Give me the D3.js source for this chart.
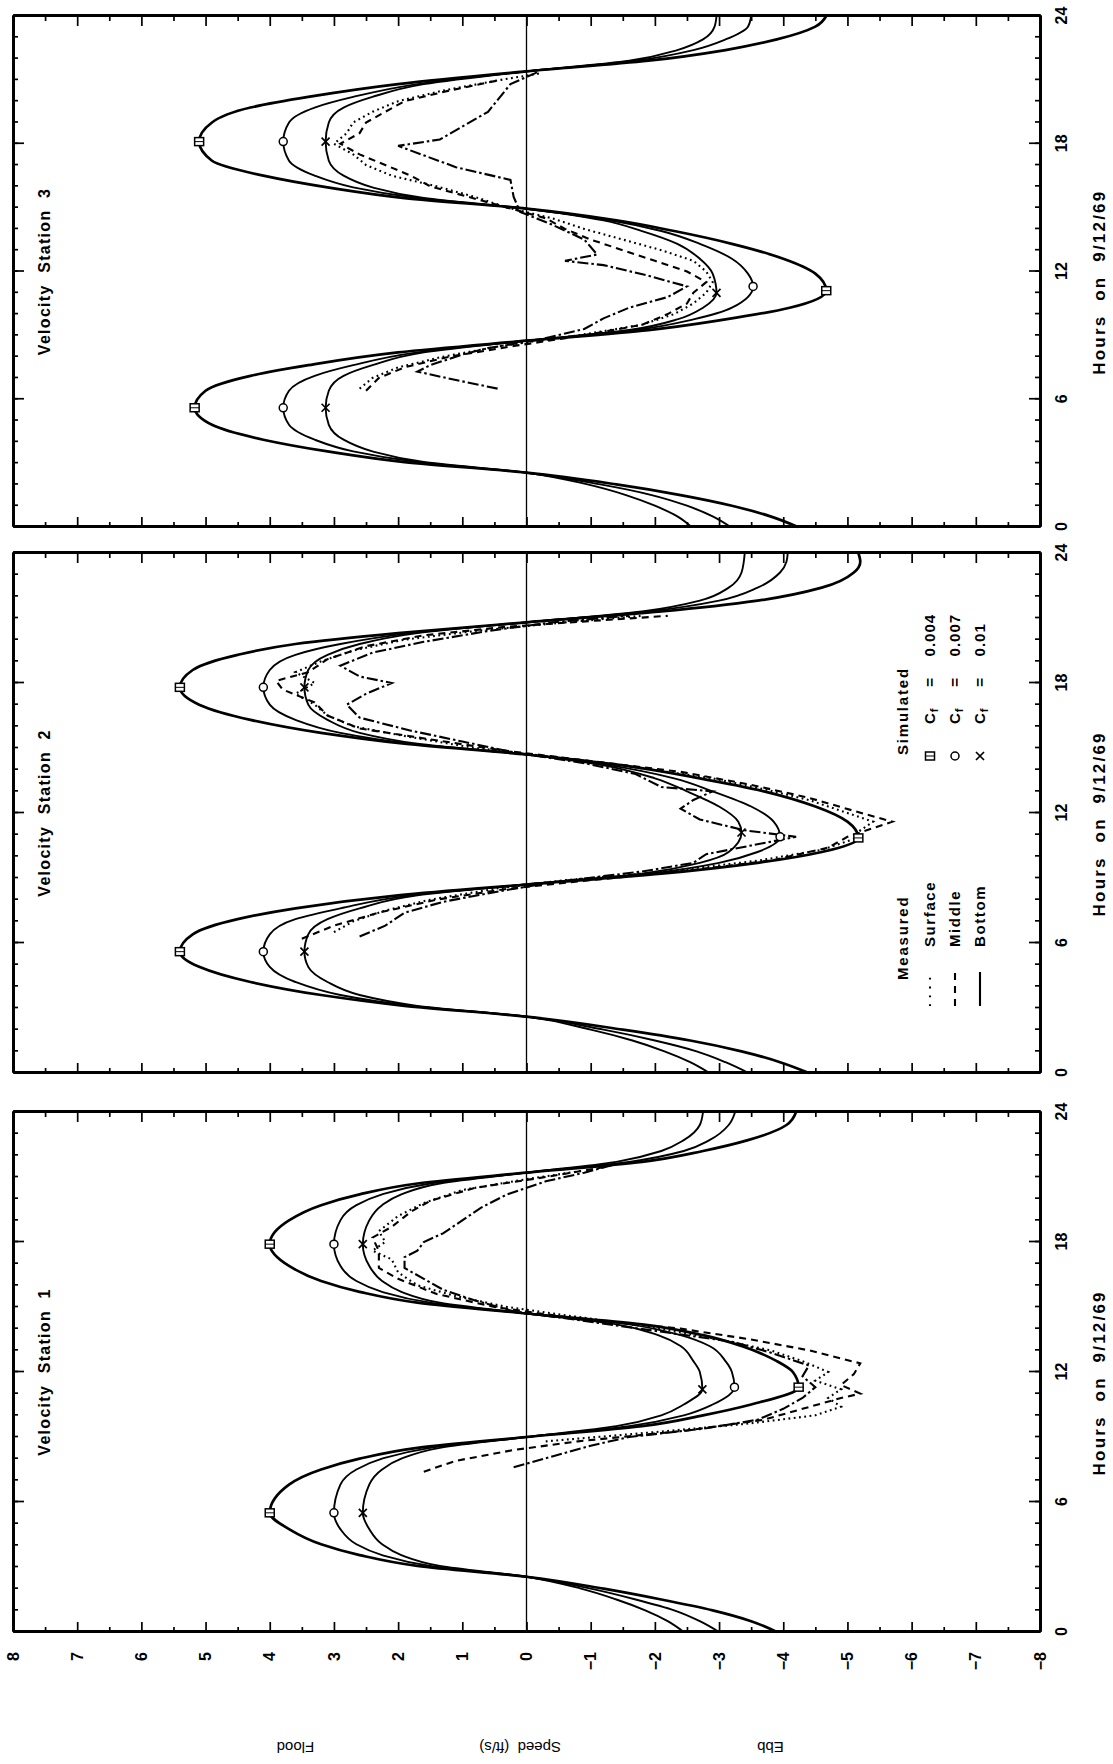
<!DOCTYPE html>
<html>
<head>
<meta charset="utf-8">
<script src="https://d3js.org/d3.v7.min.js"></script>
<style>
    body { margin: 0; background: #fff; }
    text { font-family: "Liberation Sans", Arial, sans-serif; fill: #000; }
    .axis path, .axis line { stroke: #000; fill: none; }
</style>
</head>
<body>
<div id="chart"></div>
<script>
// tick labels
var hourTicks = [0, 6, 12, 18, 24];
var speedTicks = [8, 7, 6, 5, 4, 3, 2, 1, 0, -1, -2, -3, -4, -5, -6, -7, -8];
var stationNames = ["Velocity  Station  1", "Velocity  Station  2", "Velocity  Station  3"];
var measuredNames = ["Surface", "Middle", "Bottom"];
var simulatedNames = ["0.004", "0.007", "0.01"];

// simulated, station 1 (hour, ft/s)
var sim1Cf004 = [[0,-3.9],[0.5,-3.5],[1.0,-2.9],[1.5,-2.1],[2.0,-1.2],[2.55,0],[3.05,1.7],[3.55,2.6],[4.05,3.2],[4.75,3.7],[5.5,4.0],[6.8,3.7],[7.5,3.2],[8.0,2.6],[8.5,1.7],[9.0,0],[9.5,-1.8],[10.0,-2.75],[10.5,-3.5],[11.3,-4.24],[12.0,-4.15],[12.5,-3.9],[13.2,-3.35],[13.7,-2.75],[14.2,-1.8],[14.7,0],[15.2,1.7],[15.7,2.6],[16.2,3.2],[16.9,3.7],[17.9,4.0],[19.0,3.7],[19.7,3.2],[20.2,2.6],[20.7,1.7],[21.2,0],[21.7,-1.8],[22.2,-2.75],[22.7,-3.45],[23.4,-4.05],[24,-4.2]];
var sim1Cf007 = [[0,-3.0],[0.5,-2.7],[1.0,-2.3],[1.5,-1.7],[2.0,-1.0],[2.55,0],[3.05,1.5],[3.55,2.25],[4.05,2.65],[4.75,2.9],[5.5,3.0],[6.8,2.9],[7.5,2.65],[8.0,2.25],[8.5,1.5],[9.0,0],[9.5,-1.6],[10.0,-2.45],[10.5,-2.9],[11.3,-3.24],[12.0,-3.2],[12.5,-3.1],[13.2,-2.85],[13.7,-2.4],[14.2,-1.6],[14.7,0],[15.2,1.5],[15.7,2.25],[16.2,2.65],[16.9,2.9],[17.9,3.0],[19.0,2.9],[19.7,2.65],[20.2,2.25],[20.7,1.5],[21.2,0],[21.7,-1.6],[22.2,-2.45],[22.7,-2.85],[23.4,-3.15],[24,-3.25]];
var sim1Cf01 = [[0,-2.45],[0.5,-2.2],[1.0,-1.85],[1.5,-1.4],[2.0,-0.85],[2.55,0],[3.05,1.35],[3.55,1.95],[4.05,2.25],[4.75,2.45],[5.5,2.55],[6.8,2.45],[7.5,2.25],[8.0,1.95],[8.5,1.35],[9.0,0],[9.5,-1.4],[10.0,-2.1],[10.5,-2.45],[11.2,-2.74],[12.0,-2.7],[12.5,-2.6],[13.2,-2.4],[13.7,-2.05],[14.2,-1.4],[14.7,0],[15.2,1.35],[15.7,1.95],[16.2,2.25],[16.9,2.45],[17.9,2.55],[19.0,2.45],[19.7,2.25],[20.2,1.95],[20.7,1.35],[21.2,0],[21.7,-1.4],[22.2,-2.1],[22.7,-2.45],[23.4,-2.7],[24,-2.75]];

// simulated, station 2
var sim2Cf004 = [[0,-4.4],[0.5,-3.95],[1.0,-3.35],[1.5,-2.55],[2.0,-1.5],[2.6,0],[3.1,1.9],[3.6,3.2],[4.2,4.3],[4.9,5.1],[5.6,5.4],[6.4,5.2],[7.1,4.5],[7.6,3.6],[8.2,2.0],[8.7,0],[9.2,-2.1],[9.7,-3.6],[10.2,-4.6],[10.85,-5.17],[11.6,-5.0],[12.3,-4.5],[13.0,-3.7],[13.6,-2.7],[14.2,-1.5],[14.7,0],[15.2,1.9],[15.7,3.2],[16.3,4.3],[17.0,5.1],[17.8,5.4],[18.6,5.2],[19.3,4.5],[19.8,3.6],[20.3,2.0],[20.8,0],[21.3,-2.1],[21.8,-3.6],[22.4,-4.6],[23.1,-5.1],[23.6,-5.2],[24,-5.17]];
var sim2Cf007 = [[0,-3.46],[0.5,-3.1],[1.0,-2.65],[1.5,-2.0],[2.0,-1.2],[2.6,0],[3.1,1.8],[3.6,2.9],[4.2,3.6],[4.9,4.0],[5.6,4.1],[6.4,4.0],[7.1,3.6],[7.6,2.9],[8.2,1.8],[8.7,0],[9.2,-1.9],[9.7,-3.0],[10.2,-3.6],[10.9,-3.95],[11.6,-3.85],[12.3,-3.5],[13.0,-2.9],[13.6,-2.3],[14.2,-1.3],[14.7,0],[15.2,1.8],[15.7,2.9],[16.3,3.6],[17.0,4.0],[17.8,4.1],[18.6,4.0],[19.3,3.6],[19.8,2.9],[20.3,1.8],[20.8,0],[21.3,-1.9],[21.8,-3.0],[22.4,-3.6],[23.1,-3.95],[23.6,-4.05],[24,-4.07]];
var sim2Cf01 = [[0,-2.85],[0.5,-2.55],[1.0,-2.15],[1.5,-1.65],[2.0,-1.0],[2.6,0],[3.1,1.7],[3.6,2.6],[4.2,3.1],[4.9,3.4],[5.6,3.46],[6.4,3.4],[7.1,3.1],[7.6,2.6],[8.2,1.7],[8.7,0],[9.2,-1.8],[9.7,-2.7],[10.2,-3.15],[11.1,-3.35],[11.6,-3.3],[12.3,-3.0],[13.0,-2.5],[13.6,-2.0],[14.2,-1.2],[14.7,0],[15.2,1.7],[15.7,2.6],[16.3,3.1],[17.0,3.4],[17.8,3.46],[18.6,3.4],[19.3,3.1],[19.8,2.6],[20.3,1.7],[20.8,0],[21.3,-1.8],[21.8,-2.7],[22.4,-3.15],[23.1,-3.35],[24,-3.4]];

// simulated, station 3
var sim3Cf004 = [[0,-4.23],[0.5,-3.8],[1.0,-3.2],[1.5,-2.4],[2.0,-1.4],[2.55,0],[3.05,1.9],[3.55,3.1],[4.1,4.1],[4.8,4.9],[5.6,5.17],[6.4,5.0],[7.1,4.3],[7.6,3.4],[8.2,2.0],[8.75,0],[9.25,-1.9],[9.75,-3.1],[10.3,-4.1],[11.1,-4.67],[11.9,-4.5],[12.6,-4.0],[13.3,-3.2],[13.9,-2.3],[14.4,-1.4],[14.95,0],[15.45,1.9],[15.95,3.1],[16.5,4.1],[17.2,4.9],[18.1,5.1],[19.0,4.9],[19.7,4.3],[20.2,3.4],[20.8,2.0],[21.4,0],[21.9,-1.9],[22.4,-3.1],[22.9,-3.9],[23.5,-4.5],[24,-4.67]];
var sim3Cf007 = [[0,-3.18],[0.5,-2.9],[1.0,-2.5],[1.5,-1.95],[2.0,-1.15],[2.55,0],[3.05,1.7],[3.55,2.7],[4.1,3.3],[4.8,3.7],[5.6,3.79],[6.4,3.7],[7.1,3.3],[7.6,2.7],[8.2,1.7],[8.75,0],[9.25,-1.7],[9.75,-2.6],[10.3,-3.2],[11.3,-3.53],[11.9,-3.45],[12.6,-3.2],[13.3,-2.7],[13.9,-2.1],[14.4,-1.3],[14.95,0],[15.45,1.7],[15.95,2.7],[16.5,3.3],[17.2,3.7],[18.1,3.79],[19.0,3.7],[19.7,3.3],[20.2,2.7],[20.8,1.7],[21.4,0],[21.9,-1.7],[22.4,-2.6],[22.9,-3.1],[23.5,-3.45],[24,-3.5]];
var sim3Cf01 = [[0,-2.57],[0.5,-2.35],[1.0,-2.0],[1.5,-1.55],[2.0,-0.95],[2.55,0],[3.05,1.6],[3.55,2.4],[4.1,2.85],[4.8,3.08],[5.6,3.13],[6.4,3.08],[7.1,2.85],[7.6,2.4],[8.2,1.6],[8.75,0],[9.25,-1.6],[9.75,-2.35],[10.3,-2.75],[11.0,-2.96],[11.9,-2.9],[12.6,-2.7],[13.3,-2.35],[13.9,-1.8],[14.4,-1.2],[14.95,0],[15.45,1.6],[15.95,2.4],[16.5,2.85],[17.2,3.08],[18.1,3.13],[19.0,3.08],[19.7,2.85],[20.2,2.4],[20.8,1.6],[21.4,0],[21.9,-1.6],[22.4,-2.35],[22.9,-2.75],[23.5,-2.93],[24,-2.96]];

// marked peaks of simulated curves: [hour, speed]
var marks1Cf004 = [[5.5,4.0],[11.3,-4.24],[17.9,4.0]];
var marks1Cf007 = [[5.5,3.0],[11.3,-3.24],[17.9,3.0]];
var marks1Cf01 = [[5.5,2.55],[11.2,-2.74],[17.9,2.55]];
var marks2Cf004 = [[5.6,5.4],[10.85,-5.17],[17.8,5.4]];
var marks2Cf007 = [[5.6,4.1],[10.9,-3.95],[17.8,4.1]];
var marks2Cf01 = [[5.6,3.46],[11.1,-3.35],[17.8,3.46]];
var marks3Cf004 = [[5.6,5.17],[11.1,-4.67],[18.1,5.1]];
var marks3Cf007 = [[5.6,3.79],[11.3,-3.53],[18.1,3.79]];
var marks3Cf01 = [[5.6,3.13],[11.0,-2.96],[18.1,3.13]];

// measured, station 1
var meas1Surface = [[8.8,-0.3],[9.2,-1.9],[9.6,-3.4],[10.0,-4.5],[10.4,-4.9],[10.8,-4.7],[11.2,-4.9],[11.6,-4.5],[12.0,-4.7],[12.5,-4.3],[13.0,-3.8],[13.5,-3.0],[14.0,-2.1],[14.5,-0.9],[15.0,0.3],[15.5,1.1],[16.0,1.7],[16.6,2.0],[17.2,2.1],[17.6,2.4],[18.0,2.2],[18.5,2.3],[19.2,2.0],[19.8,1.6],[20.4,1.0],[20.9,0.0],[21.3,-0.9]];
var meas1Middle = [[7.4,1.6],[7.9,1.1],[8.4,0.2],[8.8,-0.8],[9.3,-2.5],[9.8,-3.7],[10.3,-4.3],[10.8,-4.9],[11.0,-5.2],[11.4,-4.9],[11.9,-5.1],[12.4,-5.2],[13.0,-4.4],[13.5,-3.5],[14.0,-2.4],[14.5,-0.7],[15.0,0.5],[15.6,1.4],[16.3,2.0],[16.8,2.3],[17.6,2.3],[18.2,2.4],[18.7,2.1],[19.4,1.8],[19.9,1.5],[20.5,0.8],[21.0,-0.3],[21.5,-1.3]];
var meas1Bottom = [[7.6,0.2],[8.1,-0.4],[8.6,-1.0],[9.0,-1.6],[9.4,-2.8],[9.8,-3.6],[10.3,-4.0],[10.8,-4.3],[11.3,-4.5],[11.8,-4.3],[12.3,-4.4],[12.9,-3.8],[13.4,-3.2],[13.9,-2.0],[14.4,-0.8],[14.8,0.2],[15.3,0.8],[15.8,1.3],[16.3,1.6],[16.8,1.9],[17.3,1.9],[17.6,1.7],[18.0,1.6],[18.4,1.3],[19.0,1.0],[19.6,0.7],[20.2,0.3],[20.8,-0.3],[21.2,-0.9],[21.6,-1.4]];

// measured, station 2
var meas2Surface = [[6.5,3.0],[7.0,2.7],[7.5,2.2],[8.0,1.5],[8.5,0.5],[8.9,-0.6],[9.3,-2.2],[9.8,-3.6],[10.3,-4.6],[10.8,-5.1],[11.2,-5.2],[11.6,-5.4],[12.1,-4.9],[12.6,-4.4],[13.1,-3.7],[13.6,-2.9],[14.1,-1.7],[14.6,-0.4],[15.0,0.8],[15.5,1.8],[16.0,2.7],[16.5,3.1],[17.0,3.3],[17.5,3.6],[18.0,3.3],[18.5,3.6],[19.0,3.2],[19.5,2.7],[20.0,1.9],[20.4,0.8],[20.8,-0.6],[21.1,-1.8]];
var meas2Middle = [[6.2,3.5],[6.8,3.0],[7.4,2.3],[8.0,1.4],[8.5,0.3],[8.9,-1.0],[9.3,-2.4],[9.8,-3.8],[10.4,-4.7],[10.9,-5.0],[11.3,-5.4],[11.6,-5.7],[12.1,-5.1],[12.7,-4.4],[13.3,-3.5],[13.9,-2.4],[14.4,-1.0],[14.9,0.4],[15.4,1.5],[15.9,2.6],[16.5,3.1],[17.1,3.3],[17.7,3.8],[18.1,3.9],[18.5,3.4],[19.1,3.1],[19.7,2.5],[20.2,1.6],[20.6,0.3],[20.9,-1.2],[21.1,-2.2]];
var meas2Bottom = [[6.3,2.6],[6.8,2.2],[7.4,1.9],[7.9,1.3],[8.4,0.4],[8.8,-0.4],[9.3,-1.8],[9.7,-2.6],[10.1,-2.8],[10.5,-3.5],[10.9,-4.2],[11.2,-3.4],[11.7,-2.7],[12.2,-2.4],[12.6,-2.6],[13.0,-2.9],[13.2,-2.1],[13.8,-1.7],[14.3,-0.9],[14.8,0.2],[15.3,1.0],[15.8,1.8],[16.4,2.6],[17.0,2.8],[17.5,2.5],[18.0,2.1],[18.3,2.6],[18.8,2.9],[19.4,2.4],[19.9,1.6],[20.4,0.6],[20.8,-0.4],[21.1,-1.6]];

// measured, station 3
var meas3Surface = [[6.5,2.6],[7.0,2.4],[7.5,2.0],[8.0,1.3],[8.5,0.4],[9.0,-0.8],[9.5,-1.8],[10.0,-2.3],[10.5,-2.6],[11.0,-2.8],[11.5,-2.9],[12.0,-2.8],[12.5,-2.6],[13.0,-2.1],[13.5,-1.5],[14.0,-0.9],[14.5,-0.4],[15.0,0.3],[15.5,0.8],[16.0,1.4],[16.5,2.1],[17.0,2.5],[17.5,2.7],[18.0,3.0],[18.5,2.8],[19.0,2.7],[19.5,2.4],[20.0,2.0],[20.5,1.3],[21.0,0.4],[21.3,-0.2]];
var meas3Middle = [[6.4,2.5],[7.0,2.3],[7.5,1.9],[8.0,1.2],[8.5,0.2],[9.0,-0.9],[9.5,-1.8],[10.0,-2.2],[10.5,-2.5],[11.0,-2.6],[11.5,-2.8],[12.0,-2.5],[12.5,-2.0],[13.0,-1.5],[13.5,-1.0],[14.0,-0.6],[14.5,-0.3],[15.0,0.3],[15.5,0.9],[16.0,1.5],[16.5,1.8],[17.0,2.2],[17.5,2.6],[18.0,2.9],[18.5,2.6],[19.0,2.5],[19.5,2.2],[20.0,1.9],[20.5,1.2],[21.0,0.4]];
var meas3Bottom = [[6.5,0.45],[6.9,1.1],[7.3,1.7],[7.6,1.5],[8.1,1.0],[8.4,0.6],[8.8,-0.2],[9.3,-0.9],[9.8,-1.2],[10.3,-1.6],[10.8,-2.2],[11.3,-2.5],[11.8,-1.9],[12.3,-1.2],[12.5,-0.6],[12.8,-1.1],[13.5,-0.9],[14.2,-0.4],[14.8,0.1],[15.5,0.2],[16.3,0.25],[16.9,1.1],[17.9,2.0],[18.2,1.35],[19.5,0.6],[20.8,0.25],[21.4,-0.2]];

var W = 1113, H = 1764;

// panels are laid out in the unrotated frame: u = along hours, v = along speed
var panels = [
    {name: stationNames[0], range: [132, 652], sim: [sim1Cf004, sim1Cf007, sim1Cf01], marks: [marks1Cf004, marks1Cf007, marks1Cf01], meas: [meas1Surface, meas1Middle, meas1Bottom]},
    {name: stationNames[1], range: [691, 1211], sim: [sim2Cf004, sim2Cf007, sim2Cf01], marks: [marks2Cf004, marks2Cf007, marks2Cf01], meas: [meas2Surface, meas2Middle, meas2Bottom]},
    {name: stationNames[2], range: [1237, 1748], sim: [sim3Cf004, sim3Cf007, sim3Cf01], marks: [marks3Cf004, marks3Cf007, marks3Cf01], meas: [meas3Surface, meas3Middle, meas3Bottom]}
];

var simWidth = [2.7, 1.9, 1.9];
var measDash = ["1.8,3.5", "7,5", "11,3,2.5,3"];

var svg = d3.select("#chart").append("svg")
    .attr("width", W)
    .attr("height", H);

// whole figure is turned a quarter turn counter-clockwise
var g = svg.append("g")
    .attr("transform", "translate(0," + H + ") rotate(-90)");

var y = d3.scaleLinear().domain([8, -8]).range([13, 1040]);
var hourMinor = d3.range(0, 25, 1);
var speedMinor = d3.range(-7.5, 8, 1);

function styleAxis(sel, fs) {
    sel.attr("class", "axis").attr("font-family", null).attr("font-size", null);
    sel.select(".domain").attr("stroke-width", 2.8);
    sel.selectAll(".tick line").attr("stroke-width", 1.7);
    sel.selectAll("text")
        .style("font-size", fs + "px")
        .style("font-weight", "bold");
}

function marker(sel, type, px, py) {
    if (type == 0) {
        sel.append("rect").attr("x", px - 4).attr("y", py - 4.5).attr("width", 8).attr("height", 9)
            .attr("fill", "#fff").attr("stroke", "#000").attr("stroke-width", 1.5);
        sel.append("line").attr("x1", px).attr("x2", px).attr("y1", py - 4.5).attr("y2", py + 4.5)
            .attr("stroke", "#000").attr("stroke-width", 1);
    } else if (type == 1) {
        sel.append("circle").attr("cx", px).attr("cy", py).attr("r", 4)
            .attr("fill", "#fff").attr("stroke", "#000").attr("stroke-width", 1.5);
    } else {
        sel.append("path")
            .attr("d", "M" + (px - 4) + "," + (py - 4) + "L" + (px + 4) + "," + (py + 4) + "M" + (px - 4) + "," + (py + 4) + "L" + (px + 4) + "," + (py - 4))
            .attr("stroke", "#000").attr("stroke-width", 1.7);
    }
}

panels.forEach(function(p, i) {
    var x = d3.scaleLinear().domain([0, 24]).range(p.range);
    var pg = g.append("g");

    // zero line
    pg.append("line")
        .attr("x1", x(0)).attr("x2", x(24))
        .attr("y1", y(0)).attr("y2", y(0))
        .attr("stroke", "#000").attr("stroke-width", 1.3);

    // hour ticks, bottom and top
    pg.append("g").attr("transform", "translate(0,1040)")
        .call(d3.axisBottom(x).tickValues(hourMinor).tickSize(-5).tickSizeOuter(0).tickFormat(""))
        .call(styleAxis, 16);
    pg.append("g").attr("transform", "translate(0,1040)")
        .call(d3.axisBottom(x).tickValues(hourTicks).tickSize(-11).tickSizeOuter(0).tickPadding(16).tickFormat(d3.format("d")))
        .call(styleAxis, 16);
    pg.append("g").attr("transform", "translate(0,13)")
        .call(d3.axisTop(x).tickValues(hourMinor).tickSize(-5).tickSizeOuter(0).tickFormat(""))
        .call(styleAxis, 16);
    pg.append("g").attr("transform", "translate(0,13)")
        .call(d3.axisTop(x).tickValues(hourTicks).tickSize(-11).tickSizeOuter(0).tickFormat(""))
        .call(styleAxis, 16);

    // speed ticks, left and right
    pg.append("g").attr("transform", "translate(" + x(0) + ",0)")
        .call(d3.axisLeft(y).tickValues(speedMinor).tickSize(-5).tickSizeOuter(0).tickFormat(""))
        .call(styleAxis, 16);
    pg.append("g").attr("transform", "translate(" + x(0) + ",0)")
        .call(d3.axisLeft(y).tickValues(speedTicks).tickSize(-10).tickSizeOuter(0).tickPadding(20)
            .tickFormat(i == 0 ? d3.format("d") : ""))
        .call(styleAxis, 16);
    pg.append("g").attr("transform", "translate(" + x(24) + ",0)")
        .call(d3.axisRight(y).tickValues(speedMinor).tickSize(-5).tickSizeOuter(0).tickFormat(""))
        .call(styleAxis, 16);
    pg.append("g").attr("transform", "translate(" + x(24) + ",0)")
        .call(d3.axisRight(y).tickValues(speedTicks).tickSize(-10).tickSizeOuter(0).tickFormat(""))
        .call(styleAxis, 16);

    var line = d3.line()
        .x(function(d) { return x(d[0]); })
        .y(function(d) { return y(d[1]); });

    // measured
    p.meas.forEach(function(s, k) {
        pg.append("path")
            .attr("d", line(s))
            .attr("fill", "none").attr("stroke", "#000")
            .attr("stroke-width", 2.1)
            .attr("stroke-dasharray", measDash[k]);
    });

    // simulated
    p.sim.forEach(function(s, k) {
        pg.append("path")
            .attr("d", line.curve(d3.curveMonotoneX)(s))
            .attr("fill", "none").attr("stroke", "#000")
            .attr("stroke-width", simWidth[k]);
        line.curve(d3.curveLinear);
    });

    p.marks.forEach(function(m, k) {
        m.forEach(function(d) { marker(pg, k, x(d[0]), y(d[1])); });
    });

    // titles
    pg.append("text")
        .attr("x", x(12)).attr("y", 50)
        .attr("text-anchor", "middle")
        .style("font-size", "16px").style("font-weight", "bold")
        .style("letter-spacing", "1.3px").style("white-space", "pre")
        .text(p.name);
    pg.append("text")
        .attr("x", x(11.5)).attr("y", 1105)
        .attr("text-anchor", "middle")
        .style("font-size", "17px").style("font-weight", "bold")
        .style("letter-spacing", "2.2px").style("white-space", "pre")
        .text("Hours  on  9/12/69");
});

// speed axis title
var yTitles = [["Flood", 3.6], ["Speed  (ft/s)", 0.1], ["Ebb", -3.8]];
yTitles.forEach(function(t) {
    g.append("text")
        .attr("transform", "translate(22," + y(t[1]) + ") rotate(-90)")
        .attr("text-anchor", "middle")
        .style("font-size", "15px").style("white-space", "pre")
        .text(t[0]);
});

// legend, inside station 2
var lg = g.append("g");
lg.append("text").attr("x", 784).attr("y", 908)
    .style("font-size", "15px").style("font-weight", "bold").style("letter-spacing", "1.8px")
    .text("Measured");
measuredNames.forEach(function(n, k) {
    var vy = 930 + k * 25;
    lg.append("line")
        .attr("x1", 758).attr("x2", 792).attr("y1", vy).attr("y2", vy)
        .attr("stroke", "#000").attr("stroke-width", 2.1)
        .attr("stroke-dasharray", k == 0 ? "1.8,7" : (k == 1 ? "7,6" : null));
    lg.append("text").attr("x", 817).attr("y", vy + 5)
        .style("font-size", "15px").style("font-weight", "bold").style("letter-spacing", "1.6px")
        .text(n);
});
lg.append("text").attr("x", 1009).attr("y", 908)
    .style("font-size", "15px").style("font-weight", "bold").style("letter-spacing", "1.8px")
    .text("Simulated");
simulatedNames.forEach(function(n, k) {
    var vy = 930 + k * 25;
    marker(lg, k, 1008, vy);
    var t = lg.append("text").attr("x", 1040).attr("y", vy + 5)
        .style("font-size", "15px").style("font-weight", "bold").style("white-space", "pre")
        .style("letter-spacing", "1px");
    t.append("tspan").text("C");
    t.append("tspan").attr("dy", 3).style("font-size", "11px").text("f");
    t.append("tspan").attr("dy", -3).text("    =    " + n);
});
</script>
</body>
</html>
